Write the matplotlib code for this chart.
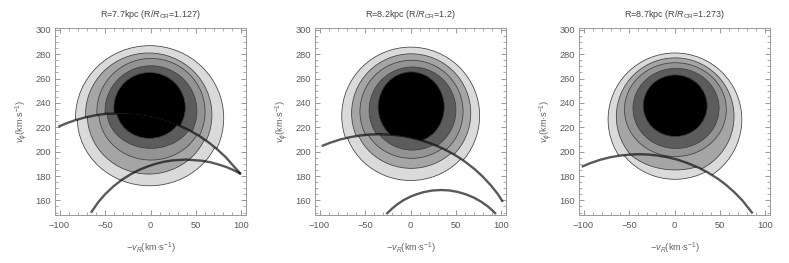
import matplotlib.pyplot as plt
from matplotlib.patches import Ellipse, Polygon
from matplotlib.ticker import MultipleLocator

plt.rcParams['font.family'] = ['Liberation Sans', 'DejaVu Sans']
plt.rcParams['mathtext.fontset'] = 'custom'
plt.rcParams['mathtext.rm'] = 'Liberation Sans'
plt.rcParams['mathtext.it'] = 'Liberation Sans:italic'

# panel titles
titles = [r'R=7.7kpc (R/$R_{\mathrm{CR}}$=1.127)',
          r'R=8.2kpc (R/$R_{\mathrm{CR}}$=1.2)',
          r'R=8.7kpc (R/$R_{\mathrm{CR}}$=1.273)']

# resonance curves (-vR, vphi)
p1_upper_x = [-101.3, -92.0, -82.9, -71.8, -60.8, -49.7, -33.1, -16.6, -5.5, 7.4,
              20.2, 31.3, 42.3, 53.4, 64.4, 73.7, 82.9, 92.0, 99.4]
p1_upper_y = [220.5, 223.4, 225.8, 228.1, 229.8, 231.0, 231.5, 231.0, 229.8, 227.8,
              224.8, 221.6, 217.7, 213.0, 207.3, 201.7, 195.3, 187.6, 181.6]
p1_lower_x = [-65.5, -57.1, -49.7, -40.5, -31.3, -22.1, -12.9, -3.7, 5.5, 14.7,
              24.0, 39.0, 57.1, 66.3, 75.5, 82.9, 90.3, 95.8, 99.4]
p1_lower_y = [149.9, 158.9, 165.2, 171.7, 177.0, 181.3, 184.9, 187.7, 190.0, 191.7,
              192.8, 193.5, 192.5, 191.2, 189.3, 187.5, 185.2, 183.1, 181.6]

p2_upper_x = [-97.6, -88.4, -77.3, -66.3, -55.2, -44.2, -34.0, -22.1, -11.0, 0.0, 11.0,
              22.1, 33.1, 42.3, 51.6, 60.8, 69.9, 79.2, 88.4, 95.8, 101.5]
p2_upper_y = [204.6, 207.3, 210.0, 211.9, 213.3, 214.1, 214.3, 214.0, 213.1, 211.6, 209.5,
              206.8, 203.4, 200.0, 196.0, 191.3, 186.0, 179.7, 172.3, 165.4, 158.8]
p2_lower_x = [-26.5, -20.2, -14.7, -7.4, 0.0, 7.4, 14.7, 24.0, 33.7, 42.3, 51.6,
              60.8, 69.9, 77.3, 84.8, 90.3, 93.9]
p2_lower_y = [148.8, 153.3, 156.7, 160.3, 163.1, 165.2, 166.8, 168.1, 168.5, 168.2, 167.0,
              165.0, 162.2, 159.1, 155.2, 151.6, 148.8]

p3_curve_x = [-102.0, -92.8, -81.8, -70.7, -59.7, -48.6, -38.9, -28.4, -19.1, -8.1,
              3.0, 14.0, 26.9, 36.1, 47.2, 56.4, 65.5, 74.8, 85.9]
p3_curve_y = [187.6, 190.5, 193.3, 195.4, 196.8, 197.6, 197.9, 197.6, 196.9, 195.5,
              193.5, 190.7, 186.7, 183.1, 178.0, 172.9, 166.9, 159.8, 149.3]

# contour levels (outer -> inner): centre x, centre y, half-width, half-height
# "above" = above the resonance curve, "below" = below it
p1_above = [(-1.0, 227.6, 81.5, 59.4), (-2.0, 230.2, 69.5, 50.8), (0.5, 232.7, 59.5, 43.8),
            (0.5, 233.4, 50.5, 37.1), (-1.0, 236.2, 39.3, 28.8)]
p1_below = [(-1.0, 227.6, 79.5, 55.6), (-2.0, 230.2, 67.5, 48.6), (0.5, 232.7, 57.5, 39.6),
            (0.5, 233.4, 48.5, 30.7), (-1.0, 236.2, 37.0, 25.3)]

p2_above = [(0.2, 229.5, 75.8, 56.3), (0.75, 231.6, 65.5, 48.7), (1.1, 232.9, 56.7, 42.1),
            (2.2, 234.1, 47.7, 35.4), (0.75, 236.5, 36.4, 29.0)]
p2_below = [(0.2, 229.5, 74.0, 53.2), (0.75, 231.6, 63.5, 45.3), (1.1, 232.9, 55.0, 38.4),
            (2.2, 234.1, 46.0, 32.8), (0.75, 236.5, 34.0, 24.5)]

p3_above = [(0.5, 226.4, 73.5, 54.6), (0.75, 228.9, 64.7, 48.1), (1.0, 234.5, 56.0, 38.5),
            (1.7, 235.5, 47.3, 32.9), (0.75, 237.7, 35.2, 25.3)]
p3_below = [(0.5, 226.4, 70.0, 49.1), (0.75, 220.0, 64.0, 35.0), (1.0, 225.0, 50.0, 30.0),
            (1.7, 235.5, 47.3, 32.9), (0.75, 237.7, 35.2, 25.3)]

shades = ['#dadada', '#a5a5a5', '#939393', '#5c5c5c', '#000000']

panels = [
    (p1_upper_x, p1_upper_y, [(p1_lower_x, p1_lower_y)], p1_above, p1_below),
    (p2_upper_x, p2_upper_y, [(p2_lower_x, p2_lower_y)], p2_above, p2_below),
    (p3_curve_x, p3_curve_y, [], p3_above, p3_below),
]

fig = plt.figure(figsize=(7.89, 2.63), dpi=100)
lefts = [55, 315, 579]
text_col = '#5a5a5a'
curve_kw = dict(color='black', alpha=0.65, lw=1.7, zorder=5, solid_capstyle='butt')

for i, (cx_, cy_, extra, above, below) in enumerate(panels):
    ax = fig.add_axes([lefts[i] / 789, 48 / 263, 191 / 789, 187 / 263])
    ax.set_xlim(-105, 105)
    ax.set_ylim(148, 301.5)

    pts = list(zip(cx_, cy_))
    top_poly = Polygon([(-300, cy_[0])] + pts + [(300, cy_[-1]), (300, 500), (-300, 500)],
                       closed=True, transform=ax.transData)
    # lower region reaches a little above the curve so no seam shows
    bot_pts = [(x, y + 1.5) for x, y in pts]
    bot_poly = Polygon([(-300, cy_[0] + 1.5)] + bot_pts + [(300, cy_[-1] + 1.5), (300, 0), (-300, 0)],
                       closed=True, transform=ax.transData)

    for rings, clip, z in [(below, bot_poly, 2), (above, top_poly, 3)]:
        for (ex, ey, rx, ry), c in zip(rings, shades):
            e = Ellipse((ex, ey), 2 * rx, 2 * ry, facecolor=c, edgecolor='#404040',
                        lw=0.55, zorder=z)
            ax.add_patch(e)
            e.set_clip_path(clip)

    ax.plot(cx_, cy_, **curve_kw)
    for lx, ly in extra:
        ax.plot(lx, ly, **curve_kw)

    ax.set_title(titles[i], fontsize=6.5, color='#444444', pad=8)
    ax.set_xticks([-100, -50, 0, 50, 100])
    ax.set_yticks([160, 180, 200, 220, 240, 260, 280, 300])
    ax.set_xticklabels(['\u2212100', '\u221250', '0', '50', '100'])
    ax.xaxis.set_minor_locator(MultipleLocator(10))
    ax.yaxis.set_minor_locator(MultipleLocator(5))
    ax.tick_params(which='both', direction='in', top=True, right=True,
                   color='#888888', labelsize=6.7, labelcolor=text_col, pad=3)
    ax.tick_params(axis='x', which='both', pad=4)
    ax.tick_params(which='major', length=3.5, width=0.6)
    ax.tick_params(which='minor', length=2, width=0.5)
    for s in ax.spines.values():
        s.set_color('#999999')
        s.set_linewidth(0.7)
    ax.set_xlabel(r'$-v_R$(km$\cdot$s$^{-1}$)', fontsize=6.7, color='#6b6360', labelpad=8)
    ax.set_ylabel(r'$v_\phi$(km$\cdot$s$^{-1}$)', fontsize=6.7, color='#6b6360', labelpad=3)

fig.savefig('out.png', dpi=100)
